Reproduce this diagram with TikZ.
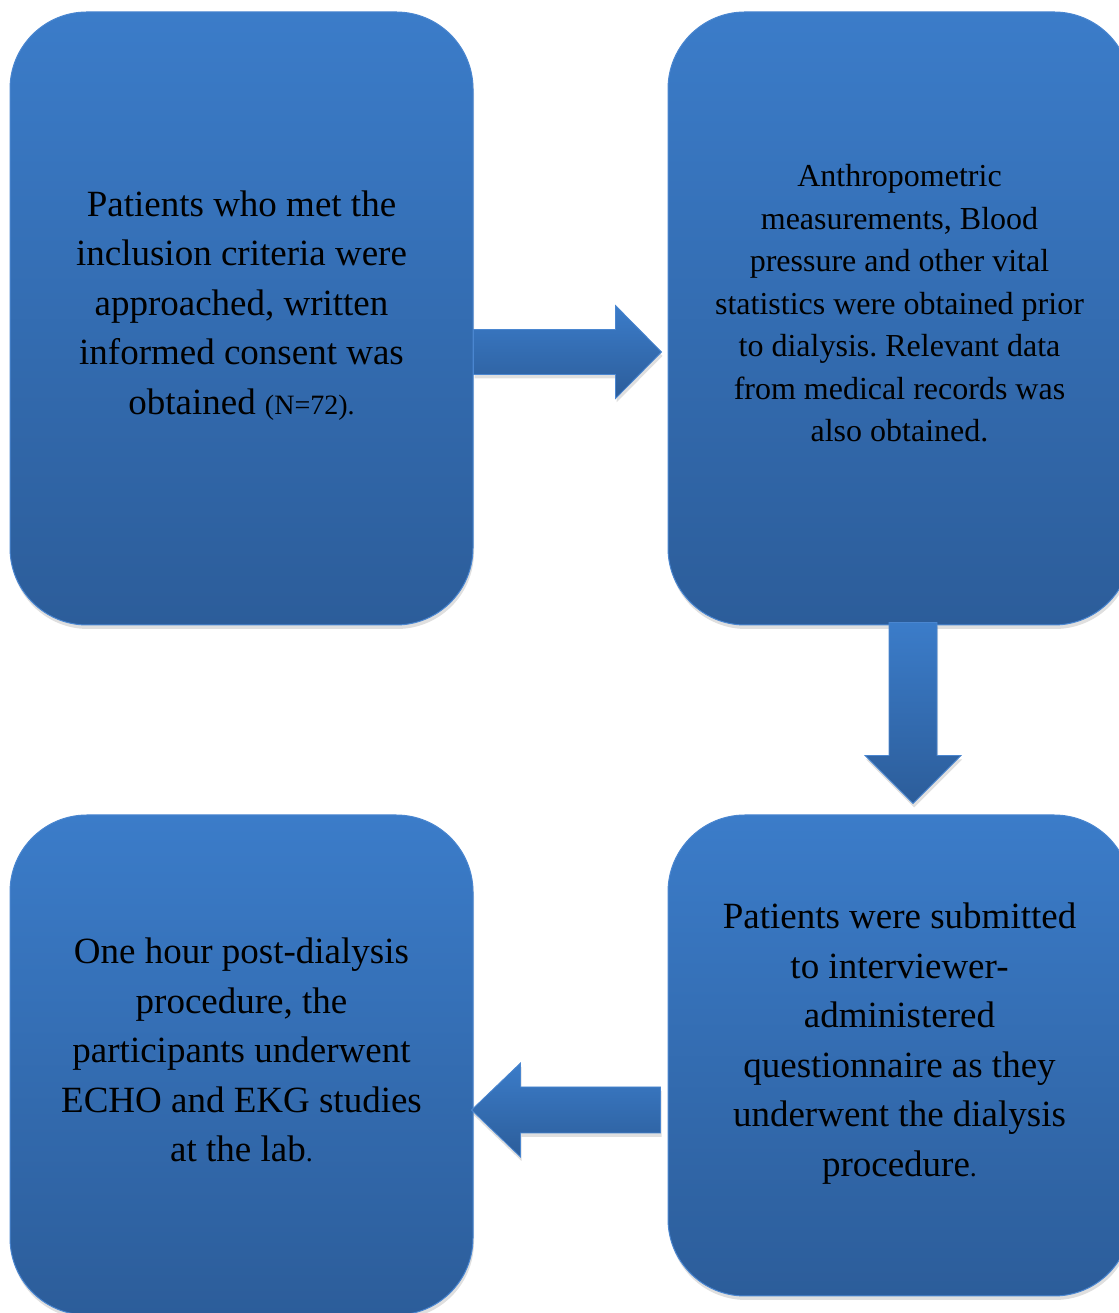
\documentclass[tikz,border=0pt]{standalone}
\usepackage{fontspec}
\setmainfont{Liberation Serif}
\usetikzlibrary{calc, shadows}
\definecolor{boxtop}{HTML}{3B7CC9}
\definecolor{boxbot}{HTML}{2C5D9A}
\definecolor{boxedge}{HTML}{4A86D0}
\frenchspacing

\begin{document}
\begin{tikzpicture}[x=1pt, y=1pt,
  stepbox/.style={rounded corners=77pt, minimum width=463pt, inner sep=0pt,
    top color=boxtop, bottom color=boxbot, draw=boxedge, line width=1pt,
    drop shadow={opacity=0.25, shadow xshift=1pt, shadow yshift=-4pt}},
  blockarrow/.style={top color=boxtop, bottom color=boxbot, draw=boxedge, line width=0.8pt,
    drop shadow={opacity=0.25, shadow xshift=1pt, shadow yshift=-4pt}},
  bigtext/.style={align=center, font=\fontsize{37}{49.5}\selectfont},
  smalltext/.style={align=center, font=\fontsize{32}{42.5}\selectfont}]
  \useasboundingbox (0,0) rectangle (1118,1313);
  % the four steps
  \node[stepbox, minimum height=613pt] (b1) at (241.5,994.5) {};
  \node[stepbox, minimum height=613pt] (b2) at (899.5,994.5) {};
  \node[stepbox, minimum height=500pt] (b3) at (241.5,248) {};
  \node[stepbox, minimum height=481pt] (b4) at (899.5,257.5) {};
  % block arrows
  \coordinate (a1) at ([yshift=-33.5pt]b1.east);
  \coordinate (a2) at ([xshift=13.5pt]b2.south);
  \coordinate (a3) at ([yshift=-54.5pt]b4.west);
  \path[blockarrow] (a1) ++(0,22.5) -- ++(142,0) -- ++(0,24) -- ++(46,-46.5)
    -- ++(-46,-46.5) -- ++(0,24) -- ++(-142,0) -- cycle;
  \path[blockarrow] (a2) ++(-24,3) -- ++(0,-133) -- ++(-24,0) -- ++(48,-48)
    -- ++(48,48) -- ++(-24,0) -- ++(0,133) -- cycle;
  \path[blockarrow] (a3) ++(-7,23) -- ++(-140,0) -- ++(0,24) -- ++(-49,-47)
    -- ++(49,-47) -- ++(0,24) -- ++(140,0) -- cycle;
  % texts
  \node[bigtext] (t1) at ([yshift=13pt]b1.center) {Patients who met the\\inclusion criteria were\\approached, written\\informed consent was\\obtained {\fontsize{28}{28}\selectfont (N=72).}};
  \node[smalltext] (t2) at ([yshift=15pt]b2.center) {Anthropometric\\measurements, Blood\\pressure and other vital\\statistics were obtained prior\\to dialysis. Relevant data\\from medical records was\\also obtained.};
  \node[bigtext] (t3) at ([yshift=15pt]b3.center) {One hour post-dialysis\\procedure, the\\participants underwent\\ECHO and EKG studies\\at the lab{\fontsize{28}{28}\selectfont .}};
  \node[bigtext] (t4) at ([yshift=12pt]b4.center) {Patients were submitted\\to interviewer-\\administered\\questionnaire as they\\underwent the dialysis\\procedure{\fontsize{28}{28}\selectfont .}};
\end{tikzpicture}
\end{document}
